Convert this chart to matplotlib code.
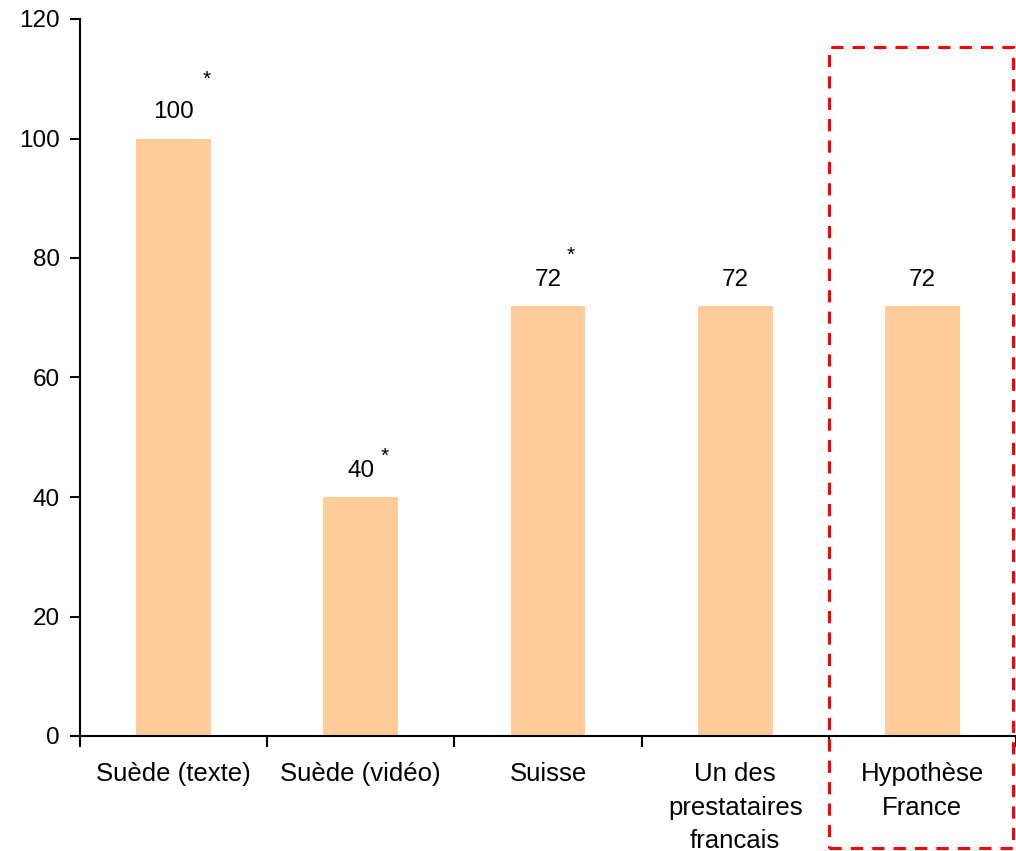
import matplotlib.pyplot as plt
from matplotlib.patches import Rectangle

plt.rcParams["font.family"] = ["Liberation Sans", "DejaVu Sans"]

categories = ["Suède (texte)", "Suède (vidéo)", "Suisse", "Un des\nprestataires\nfrancais", "Hypothèse\nFrance"]
values = [100, 40, 72, 72, 72]
starred = [True, True, True, False, False]
# asterisk offsets (px right, px up) from the bar top centre
star_offsets = [(33, 59), (24, 41), (23, 50), (0, 0), (0, 0)]

fig = plt.figure(figsize=(10.16, 8.51), dpi=100)
ax = fig.add_axes([80 / 1016, 115 / 851, 936 / 1016, 717 / 851])

x = list(range(len(categories)))
ax.bar(x, values, width=0.4, color="#FFCC99", zorder=2)

for xi, v, s, off in zip(x, values, starred, star_offsets):
    ax.annotate(str(v), (xi, v), xytext=(0, 11), textcoords="offset points",
                ha="center", va="bottom", fontsize=17.5)
    if s:
        ax.annotate("*", (xi, v), xytext=(off[0] * 0.72, off[1] * 0.72),
                    textcoords="offset points", ha="center", va="center", fontsize=15)

ax.set_xlim(-0.5, len(categories) - 0.5)
ax.set_ylim(0, 120)
ax.set_yticks(range(0, 121, 20))

# boundaries carry the tick marks, centres carry the labels
ax.set_xticks([i - 0.5 for i in range(len(categories) + 1)])
ax.set_xticklabels([])
ax.set_xticks(x, minor=True)
ax.set_xticklabels(categories, minor=True, fontsize=18.5, linespacing=1.5, va="top")
ax.tick_params(axis="x", which="minor", length=0, pad=19)
ax.tick_params(axis="x", which="major", direction="out", length=8, width=1.5)
ax.tick_params(axis="y", direction="out", length=7, width=1.5, labelsize=17.5, pad=7.5)

for side in ["top", "right"]:
    ax.spines[side].set_visible(False)
for side in ["left", "bottom"]:
    ax.spines[side].set_linewidth(1.5)

# red dashed box around the French hypothesis
box = Rectangle((3.5, -18.7), 0.985, 134.0, fill=False, edgecolor="#FF0000",
                linestyle=(0, (4, 3)), linewidth=2.2, clip_on=False, zorder=3)
ax.add_patch(box)

fig.savefig("out.png", dpi=100)
